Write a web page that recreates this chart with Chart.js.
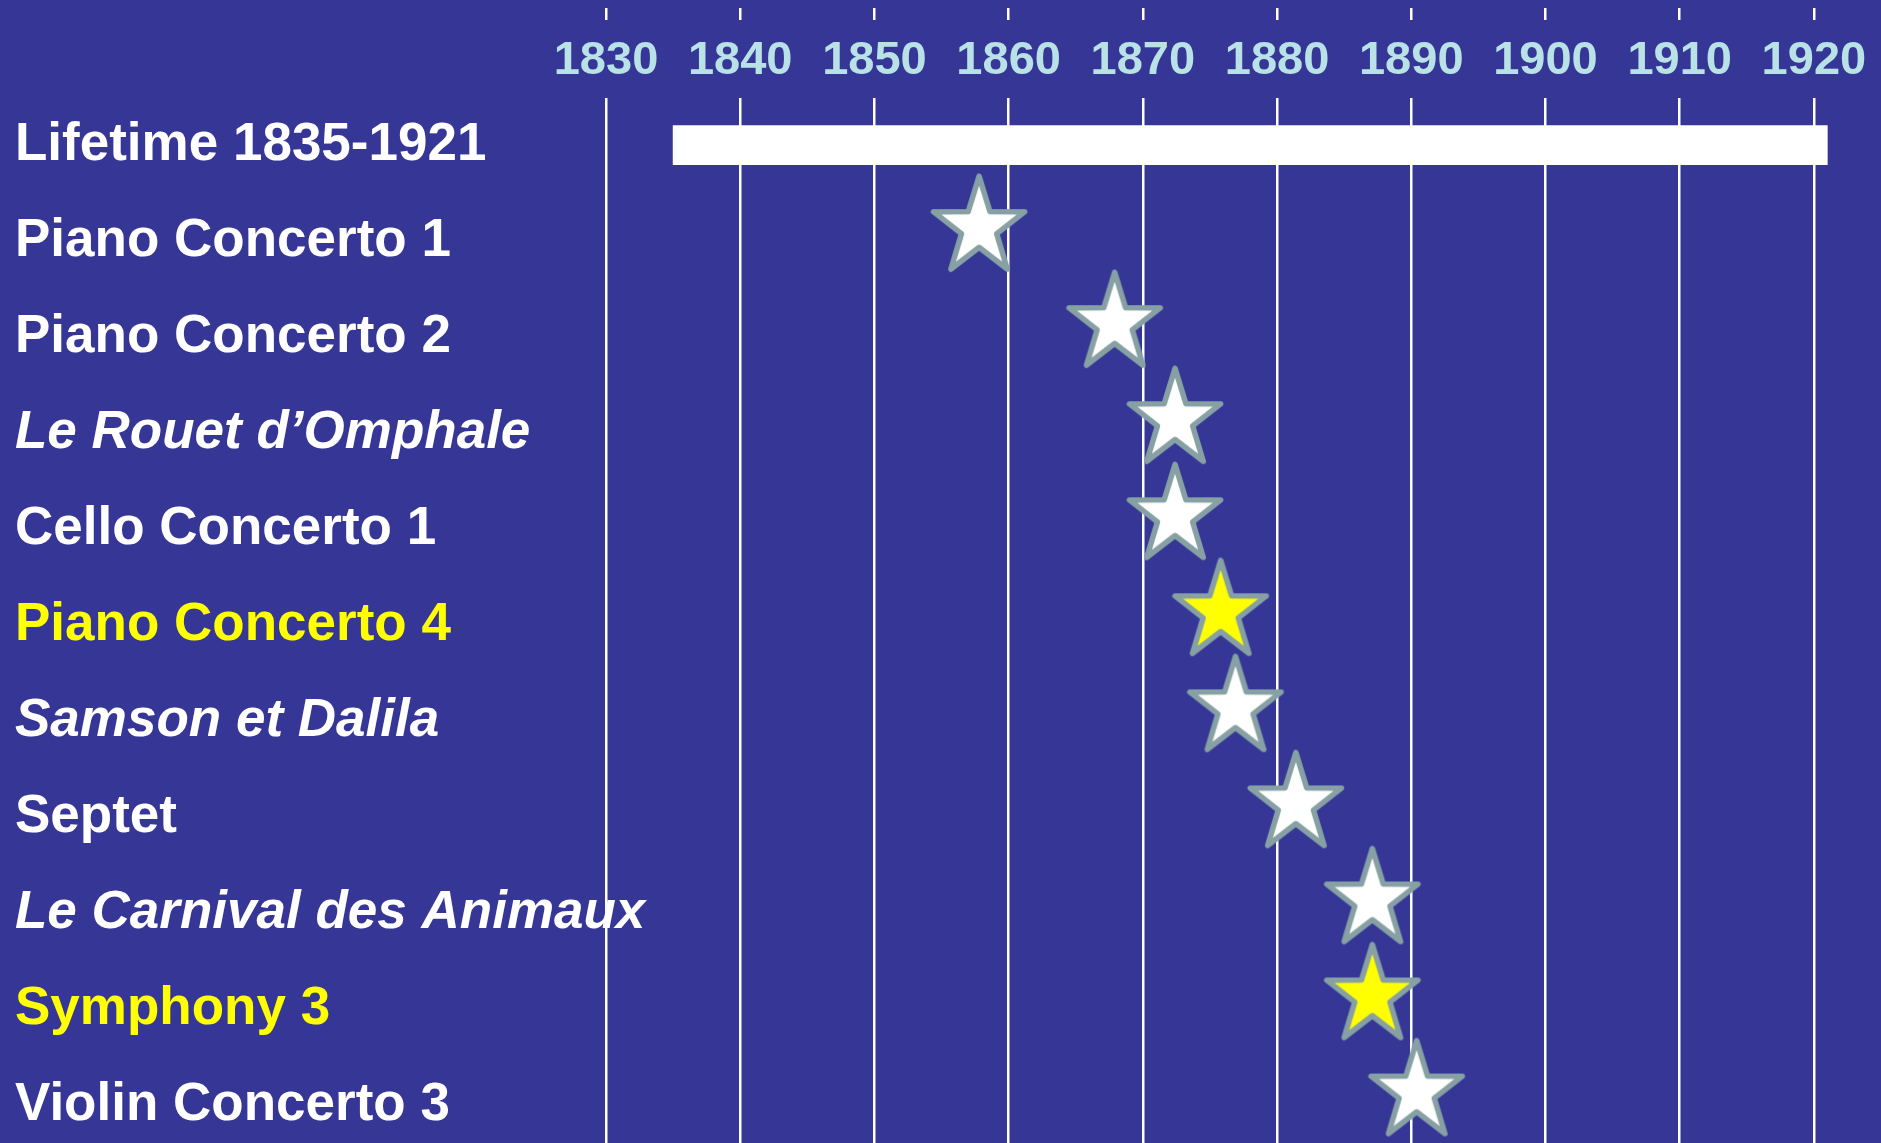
<!DOCTYPE html>
<html>
<head>
<meta charset="utf-8">
<script src="https://cdn.jsdelivr.net/npm/chart.js@4.4.1/dist/chart.umd.min.js"></script>
<style>
html,body{margin:0;padding:0;background:#363697;overflow:hidden}
#wrap{width:1881px;height:1143px;position:relative}
</style>
</head>
<body>
<div id="wrap"><canvas id="c"></canvas></div>
<script>
// ---- data ----
const rowLabels = ['Lifetime 1835-1921','Piano Concerto 1','Piano Concerto 2','Le Rouet d\u2019Omphale','Cello Concerto 1','Piano Concerto 4','Samson et Dalila','Septet','Le Carnival des Animaux','Symphony 3','Violin Concerto 3'];
const italicRows = [false,false,false,true,false,false,true,false,true,false,false];
const highlightRows = [false,false,false,false,false,true,false,false,false,true,false];
const lifetime = [1835, 1921];
const workRows = [1,2,3,4,5,6,7,8,9,10];
const workYears = [1857.8,1867.9,1872.4,1872.4,1875.8,1876.9,1881.4,1887.1,1887.1,1890.4];
const yearTicks = [1830,1840,1850,1860,1870,1880,1890,1900,1910,1920];

// ---- star marker images ----
function makeStar(fill){
  const W=110,H=150;
  const c=document.createElement('canvas'); c.width=W; c.height=H;
  const g=c.getContext('2d');
  const cx=W/2, cy=H/2-13.5, R=48, r=18.5, sy=1.07;
  g.beginPath();
  for(let k=0;k<10;k++){
    const a=-Math.PI/2+k*Math.PI/5;
    const rad=(k%2)?r:R;
    const px=cx+rad*Math.cos(a), py=cy+rad*Math.sin(a)*sy;
    if(k) g.lineTo(px,py); else g.moveTo(px,py);
  }
  g.closePath();
  g.fillStyle=fill; g.fill();
  g.lineJoin='round'; g.lineWidth=5.5; g.strokeStyle='#86A0A3'; g.stroke();
  return c;
}
const whiteStar=makeStar('#FFFFFF');
const yellowStar=makeStar('#FFFF00');

const FONT='Liberation Sans, Arial, Helvetica, sans-serif';
const noPadX = s => { s.paddingLeft = 0; s.paddingRight = 0; };

new Chart(document.getElementById('c'), {
  type:'bar',
  data:{
    datasets:[
      {
        type:'bar', indexAxis:'y',
        data:[{x:lifetime, y:0}],
        backgroundColor:'#FFFFFF', borderWidth:0, barThickness:39,
        xAxisID:'x', yAxisID:'y'
      },
      {
        type:'scatter',
        data: workYears.map((v,i)=>({x:v, y:workRows[i]})),
        pointStyle: ctx => highlightRows[workRows[ctx.dataIndex]] ? yellowStar : whiteStar,
        pointRadius:45, clip:false,
        xAxisID:'x', yAxisID:'y'
      }
    ]
  },
  options:{
    responsive:true, maintainAspectRatio:false, animation:false,
    layout:{autoPadding:false, padding:{left:15, top:8, right:0, bottom:0}},
    plugins:{legend:{display:false}, tooltip:{enabled:false}},
    scales:{
      x:{
        type:'linear', position:'top', min:1830, max:1925, weight:0, offset:false,
        afterBuildTicks: s => { s.ticks = yearTicks.map(v=>({value:v})); },
        afterFit: s => { s.height = 78; noPadX(s); },
        grid:{color:'#FFFFFF', lineWidth:2.5, offset:false, drawTicks:false, drawOnChartArea:true},
        border:{display:false},
        ticks:{color:'#B9E2E6', font:{family:FONT, size:47, weight:'bold'}, padding:9,
               maxRotation:0, autoSkip:false, callback: v => String(v)}
      },
      x2:{
        type:'linear', position:'top', min:1830, max:1925, weight:1, offset:false,
        afterBuildTicks: s => { s.ticks = yearTicks.map(v=>({value:v})); },
        afterFit: s => { s.height = 12; noPadX(s); },
        grid:{color:'#FFFFFF', lineWidth:2.5, offset:false, drawOnChartArea:false, drawTicks:true, tickLength:12},
        border:{display:false},
        ticks:{display:false}
      },
      y:{
        type:'linear', reverse:true, min:-0.49, max:10.39, offset:false,
        afterBuildTicks: s => { s.ticks = rowLabels.map((_,i)=>({value:i})); },
        afterFit: s => { s.width = 591; s.paddingTop = 0; s.paddingBottom = 0; },
        grid:{display:false, drawTicks:false, offset:false},
        border:{display:false},
        ticks:{
          mirror:true, crossAlign:'near', autoSkip:false, padding:-591,
          callback: v => rowLabels[v],
          color: c => highlightRows[c.index] ? '#FFFF00' : '#FFFFFF',
          font: c => ({family:FONT, size:53, weight:'bold', style: italicRows[c.index] ? 'italic' : 'normal'})
        }
      }
    }
  }
});
</script>
</body>
</html>
